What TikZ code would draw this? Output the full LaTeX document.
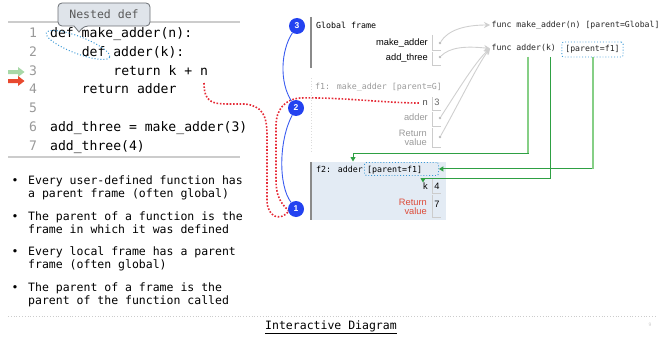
\documentclass[tikz,border=0pt]{standalone}
\usepackage{fontspec}
\setmainfont{Liberation Sans}
\newfontfamily\mono{DejaVu Sans Mono}
\usetikzlibrary{arrows.meta}

\definecolor{rulegray}{HTML}{CCCCCC}
\definecolor{numgray}{HTML}{999999}
\definecolor{calloutfill}{HTML}{DFE4EA}
\definecolor{calloutdraw}{HTML}{6B6F74}
\definecolor{hintblue}{HTML}{3D9AD6}
\definecolor{stepgreen}{HTML}{A8D8A8}
\definecolor{stepred}{HTML}{E8492F}
\definecolor{refred}{HTML}{E52A36}
\definecolor{stepblue}{HTML}{2342F0}
\definecolor{linkblue}{HTML}{3A5CF0}
\definecolor{framebar}{HTML}{8A8A8A}
\definecolor{fadedtext}{HTML}{9A9A9A}
\definecolor{f2fill}{HTML}{E3EBF4}
\definecolor{retred}{HTML}{DD4B39}
\definecolor{ptrgray}{HTML}{CFCFCF}
\definecolor{darkgreen}{HTML}{2EA043}
\definecolor{lightgreen}{HTML}{86CF86}

\begin{document}
\begin{tikzpicture}[x=1pt,y=-1pt,
  code/.style={font=\mono\fontsize{13.1}{15}\selectfont, anchor=west, inner sep=0pt,
    text height=0.75em, text depth=0.25em},
  lnum/.style={code, anchor=center, text=numgray},
  bul/.style={font=\mono\fontsize{11.5}{13}\selectfont, anchor=west, inner sep=0pt,
    text height=0.75em, text depth=0.25em},
  frtitle/.style={font=\mono\fontsize{8.3}{10}\selectfont, anchor=west, inner sep=0pt,
    text height=0.75em, text depth=0.25em},
  functext/.style={font=\mono\fontsize{8.2}{10}\selectfont, anchor=west, inner sep=1.5pt,
    text height=0.75em, text depth=0.25em, text=black!85},
  varname/.style={font=\fontsize{9.3}{9.5}\selectfont, anchor=east, inner sep=0pt,
    text height=0.75em, text depth=0.25em},
  retlabel/.style={font=\fontsize{9.3}{9.3}\selectfont, anchor=east, inner sep=0pt, align=right},
  valtext/.style={font=\fontsize{9.3}{11}\selectfont, anchor=center, inner sep=0pt,
    text height=0.75em, text depth=0.25em},
  cell/.style={draw=rulegray, line width=0.8pt},
  ptrdot/.style={circle, fill=ptrgray!90!black, inner sep=0pt, minimum size=2.6pt},
  ptrarrow/.style={draw=ptrgray, line width=0.9pt, -{Stealth[length=6pt,width=6pt]}},
  parentbox/.style={draw=hintblue, dotted, line width=0.9pt, rounded corners=2pt},
  stepnum/.style={circle, fill=stepblue, text=white, inner sep=0pt, minimum size=16pt,
    font=\bfseries\fontsize{8.5}{8.5}\selectfont},
  linkline/.style={draw=linkblue, line width=0.9pt},
  refline/.style={draw=refred, line width=1.6pt, dash pattern=on 1.6pt off 1.7pt},
  greenlink/.style={draw=darkgreen, line width=1pt, -{Triangle[length=4.5pt,width=5pt]}},
  greenstem/.style={draw=lightgreen, line width=2pt},
]
\useasboundingbox (0,0) rectangle (663,337);

% ---------- code panel ----------
\draw[rulegray, line width=1.2pt] (8,22) -- (240,22);
\draw[rulegray, line width=1.2pt] (8,157) -- (240,157);

\foreach \i/\y in {1/35,2/54,3/73,4/91,5/110,6/129,7/148}
  \node[lnum] (ln\i) at (33,\y) {\i};

\node[code] (code1) at (50,35)    {def make\_adder(n):};
\node[code] (code2) at (81.6,54)  {def adder(k):};
\node[code] (code3) at (113.2,73) {return k + n};
\node[code] (code4) at (81.6,91)  {return adder};
\node[code] (code6) at (50,129)   {add\_three = make\_adder(3)};
\node[code] (code7) at (50,148)   {add\_three(4)};

% execution arrows
\fill[stepgreen] (8,70) -- (18,70) -- (18,67) -- (24.5,72) -- (18,77) -- (18,74) -- (8,74) -- cycle;
\fill[stepred]   (8,79) -- (18,79) -- (18,76) -- (24.5,81) -- (18,86) -- (18,83) -- (8,83) -- cycle;

% highlight of the nested def
\draw[hintblue, dotted, line width=1pt, rotate around={-21:(78,45)}] (78,45) ellipse [x radius=34, y radius=8.5];

% "Nested def" callout
\draw[fill=calloutfill, draw=calloutdraw, line width=0.8pt]
  (74,26) [rounded corners=4pt] -- (58,26) -- (58,3) -- (150,3) -- (150,26) -- (84,26)
  [sharp corners] -- (79,32) -- cycle;
\node[font=\mono\fontsize{11.5}{13}\selectfont, text=black!65, inner sep=0pt] (nested) at (104,14.5) {Nested def};

% ---------- bullets ----------
\foreach \y/\a/\b in {
  182/{Every user-defined function has}/{a parent frame (often global)},
  217.5/{The parent of a function is the}/{frame in which it was defined},
  253/{Every local frame has a parent}/{frame (often global)},
  288.5/{The parent of a frame is the}/{parent of the function called}} {
  \node[bul, anchor=center] at (15,\y) {•};
  \node[bul] at (28,\y) {\a};
  \node[bul] at (28,\y+13) {\b};
}

% ---------- footer ----------
\draw[rulegray, line width=0.8pt, dotted] (8,316) -- (655,316);
\node[font=\mono\fontsize{11.5}{13}\selectfont, inner sep=0pt] (footer) at (331,327) {\underline{Interactive Diagram}};
\node[font=\fontsize{5}{5}\selectfont, text=rulegray, inner sep=0pt] (pagenum) at (650,325) {9};

% ---------- frames ----------
% global frame
\draw[framebar, line width=1.8pt] (311,17) -- (311,68);
\node[frtitle] (gtitle) at (316,26) {Global frame};
\node[varname] (gma) at (428,43) {make\_adder};
\node[varname] (gat) at (428,58) {add\_three};

% f1 frame
\draw[rulegray!70, line width=0.8pt, dotted] (311,78) -- (311,152);
\node[frtitle, text=fadedtext] (f1title) at (315,87) {f1: make\_adder [parent=G]};
\node[varname, text=black!70] (f1n) at (428,103) {n};
\node[valtext, text=black!60] (f1nv) at (437,103) {3};
\node[varname, text=fadedtext] (f1a) at (428,118) {adder};
\node[retlabel, text=fadedtext] (f1r) at (427,137.5) {Return\\value};

% f2 frame
\node[fill=f2fill, anchor=north west, inner sep=0pt, minimum width=135pt, minimum height=58pt] (f2frame) at (311,162) {};
\draw[framebar, line width=2pt] (f2frame.north west) -- (f2frame.south west);
\node[frtitle] (f2title) at (316,169.5) {f2: adder};
\node[parentbox, anchor=north west, minimum width=74pt, minimum height=13pt, inner sep=0pt] (f2p) at (364,162) {};
\node[frtitle] (f2pt) at (367,169.5) {[parent=f1]};
\node[varname] (f2k) at (428,187) {k};
\node[valtext] (f2kv) at (437,187) {4};
\node[retlabel, text=retred] (f2r) at (427,206.5) {Return\\value};
\node[valtext] (f2rv) at (437,205) {7};

% value cells
\foreach \t/\b in {35/50, 52/65, 97/110, 112/126, 128/147, 178/193, 195/217}
  \draw[cell] (432,\t) -- (432,\b) -- (441,\b);

% pointer dots
\node[ptrdot] (pma) at (440,43) {};
\node[ptrdot] (pat) at (440,57) {};
\node[ptrdot] (pf1a) at (440,118) {};
\node[ptrdot] (pf1r) at (440,137) {};

% function objects
\node[functext] (fma) at (490,25) {func make\_adder(n) [parent=Global]};
\node[functext] (fadd) at (490,48.5) {func adder(k)};
\node[parentbox, font=\mono\fontsize{8.2}{10}\selectfont, text=black!85, inner xsep=3.5pt, inner ysep=2.5pt,
  text height=0.75em, text depth=0.25em] (faddp) at (592.5,49.5) {[parent=f1]};

% pointers to function objects
\draw[ptrarrow] (pma) .. controls (448,30) and (465,25) .. (fma.west);
\draw[ptrarrow] (pat) .. controls (450,47) and (466,46) .. (fadd.west);
\draw[ptrarrow] (pf1a) .. controls (455,95) and (475,62) .. (fadd.west);
\draw[ptrarrow] (pf1r) .. controls (458,105) and (478,64) .. (fadd.west);

% green links from the adder function to frame f2
\coordinate (g1s) at (528,57);
\coordinate (g1c) at (528,153);
\coordinate (g1d) at (353,153);
\coordinate (g1e) at (353,161.5);
\coordinate (g2s) at (550,57);
\coordinate (g2c) at (550,178);
\coordinate (g2d) at (423,178);
\coordinate (g2e) at (423,182.5);
\coordinate (g3s) at (593,57);

\draw[greenlink] (g1s) -- (g1c) -- (g1d) -- (g1e);
\draw[greenlink] (g2s) -- (g2c) -- (g2d) -- (g2e);
\draw[greenlink] (g3s) |- (f2p.east);
\draw[greenstem] (g1s) -- (g1c);
\draw[greenstem] (g3s) -- (g3s |- f2p.east);

% ---------- reference line and step markers ----------
\coordinate (nref) at (204,83);
\coordinate (c3p) at (297,26);
\coordinate (c2p) at (296,108);
\coordinate (c1p) at (296,209);
\draw[refline] (nref) .. controls (204,102) and (212,104) .. (228,104) -- (245,104)
  .. controls (262,106) and (267,115) .. (267,135) -- (267,200)
  .. controls (267,217) and (280,222) .. (289,211)
  .. controls (280,203) and (276,195) .. (276,180) -- (276,125)
  .. controls (276,110) and (285,99) .. (300,98)
  .. controls (340,97) and (385,103) .. ([xshift=-3pt]f1n.west);

\node[stepnum] (c3) at (c3p) {3};
\node[stepnum] (c2) at (c2p) {2};
\node[stepnum] (c1) at (c1p) {1};
\draw[linkline] (c3) .. controls (281,50) and (279,82) .. (c2);
\draw[linkline] (c2) .. controls (279,140) and (278,185) .. (c1);
\end{tikzpicture}
\end{document}
